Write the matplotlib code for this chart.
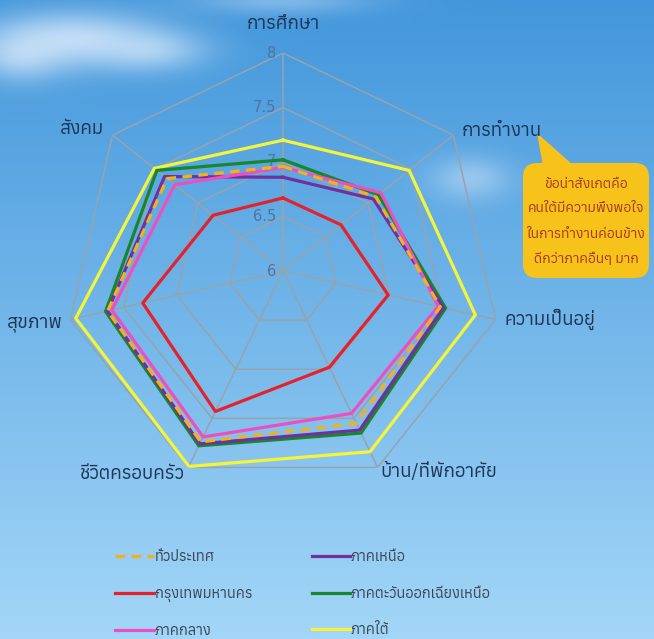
import numpy as np
import matplotlib
matplotlib.use("Agg")
import matplotlib.pyplot as plt
from matplotlib import font_manager
from matplotlib.ft2font import FT2Font
from matplotlib.patches import FancyBboxPatch, Polygon

# find a font that has Thai glyphs
thai_fonts = []
for f in font_manager.fontManager.ttflist:
    try:
        if 0x0E01 in FT2Font(f.fname).get_charmap():
            thai_fonts.append(f.name)
    except Exception:
        pass
thai_fonts = sorted(set(thai_fonts))
plt.rcParams['font.family'] = thai_fonts[:1] + ['DejaVu Sans']

categories = ['การศึกษา', 'การทำงาน', 'ความเป็นอยู่', 'บ้าน/ที่พักอาศัย',
              'ชีวิตครอบครัว', 'สุขภาพ', 'สังคม']
series_names = ['ทั่วประเทศ', 'กรุงเทพมหานคร', 'ภาคกลาง',
                'ภาคเหนือ', 'ภาคตะวันออกเฉียงเหนือ', 'ภาคใต้']
whole_country = [6.96, 7.09, 7.48, 7.55, 7.74, 7.65, 7.36]
bangkok = [6.67, 6.68, 6.99, 6.98, 7.43, 7.32, 6.82]
central = [6.95, 7.15, 7.46, 7.45, 7.69, 7.61, 7.27]
north = [6.86, 7.06, 7.51, 7.62, 7.76, 7.65, 7.39]
northeast = [7.02, 7.12, 7.53, 7.65, 7.78, 7.67, 7.48]
south = [7.20, 7.48, 7.81, 7.84, 7.99, 7.95, 7.51]
r_ticks = [6, 6.5, 7, 7.5, 8]
r_labels = ['6', '6.5', '7', '7.5', '8']
note_lines = ['ข้อน่าสังเกตคือ', 'คนใต้มีความพึงพอใจ',
              'ในการทำงานค่อนข้าง', 'ดีกว่าภาคอื่นๆ มาก']

series = [whole_country, bangkok, central, north, northeast, south]
colors = ['#f2b21c', '#e5222b', '#ee4fc0', '#7030a0', '#17862c', '#f4f43a']
styles = ['--', '-', '-', '-', '-', '-']

W, H = 654, 639
fig = plt.figure(figsize=(W / 100, H / 100), dpi=100)

# sky background
bg = fig.add_axes([0, 0, 1, 1])
yy, xx = np.mgrid[0:H, 0:W]
t = yy / H
top = np.array([0.26, 0.59, 0.86])
bot = np.array([0.64, 0.84, 0.97])
img = top[None, None, :] * (1 - t[..., None]) + bot[None, None, :] * t[..., None]
clouds = [(75, 38, 85, 28, 0.7), (150, 50, 55, 20, 0.5), (20, 55, 45, 25, 0.55),
          (280, 0, 90, 14, 0.35), (470, 178, 40, 22, 0.4)]
for cx, cy, sx, sy, a in clouds:
    g = a * np.exp(-(((xx - cx) / sx) ** 2 + ((yy - cy) / sy) ** 2))
    img = img * (1 - g[..., None]) + g[..., None] * np.array([0.93, 0.96, 1.0])
bg.imshow(np.clip(img, 0, 1), aspect='auto', extent=[0, W, H, 0])
bg.set_xlim(0, W)
bg.set_ylim(H, 0)
bg.axis('off')

cx0, cy0, R = 283, 271, 218
ax = fig.add_axes([(cx0 - R) / W, (H - cy0 - R) / H, 2 * R / W, 2 * R / H],
                  projection='polar')
ax.patch.set_alpha(0)
ax.set_theta_zero_location('N')
ax.set_theta_direction(-1)
ax.set_ylim(6, 8)
ax.grid(False)
ax.spines['polar'].set_visible(False)
ax.set_xticks([])
ax.set_yticks([])

n = len(categories)
angles = np.arange(n) * 2 * np.pi / n
closed = np.append(angles, angles[0])

grid_c = '#97a3ad'
for r in r_ticks[1:]:
    ax.plot(closed, [r] * (n + 1), color=grid_c, lw=1.1, zorder=1)
for a in angles:
    ax.plot([a, a], [6, 8], color=grid_c, lw=1.1, zorder=1)

for r, lab in zip(r_ticks, r_labels):
    ax.annotate(lab, xy=(0, r), xytext=(-7, 0), textcoords='offset pixels',
                ha='right', va='center', fontsize=10.5, color='#4f74a3',
                family=['DejaVu Sans'])

order = [5, 4, 3, 2, 1, 0]
handles = {}
for i in order:
    vals = np.append(series[i], series[i][0])
    ln, = ax.plot(closed, vals, color=colors[i], ls=styles[i], lw=2.3,
                  zorder=3 + (1 if i == 0 else 0), dashes=(3, 2) if i == 0 else (None, None))
    handles[i] = ln

# category labels
lab_off = [(0, 20, 'center', 'bottom'), (8, 4, 'left', 'center'),
           (9, 0, 'left', 'center'), (3, -4, 'left', 'center'),
           (-4, -7, 'right', 'center'), (-8, -3, 'right', 'center'),
           (-8, 6, 'right', 'center')]
for a, lab, (dx, dy, ha, va) in zip(angles, categories, lab_off):
    ax.annotate(lab, xy=(a, 8), xytext=(dx, dy), textcoords='offset pixels',
                ha=ha, va=va, fontsize=13.5, color='#1d3557', style='italic',
                annotation_clip=False)

# callout note
box = FancyBboxPatch((523, 163), 126, 115, boxstyle='round,pad=0,rounding_size=14',
                     transform=bg.transData, facecolor='#f7c21a', edgecolor='none',
                     zorder=5)
bg.add_patch(box)
tail = Polygon([(537, 133), (543, 166), (574, 166)], closed=True,
               facecolor='#f7c21a', edgecolor='none', zorder=5)
bg.add_patch(tail)
for k, line in enumerate(note_lines):
    bg.text(586, 184 + k * 25, line, ha='center', va='center', fontsize=10,
            color='#a8361a', style='italic', fontweight='bold', zorder=6)

leg = fig.legend([handles[i] for i in range(6)], series_names, ncol=2,
                 loc='upper left', bbox_to_anchor=(102 / W, 1 - 537 / H),
                 frameon=False, fontsize=10.5, handlelength=2.65,
                 handletextpad=0.05, labelspacing=1.55, columnspacing=4.1,
                 labelcolor='#3a4656')

fig.savefig('out.png', dpi=100)
